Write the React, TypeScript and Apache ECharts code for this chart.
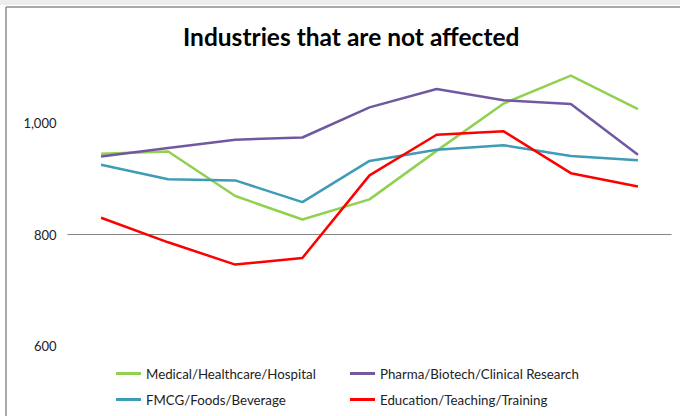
import React, { useEffect, useRef } from "react";
import * as echarts from "echarts";

const categories = ["1", "2", "3", "4", "5", "6", "7", "8", "9"];
const medical = [945, 949, 869, 827, 863, 950, 1035, 1085, 1025];
const pharma = [940, 955, 970, 974, 1028, 1061, 1041, 1034, 943];
const fmcg = [925, 899, 897, 858, 932, 952, 960, 941, 933];
const education = [830, 786, 746, 758, 906, 979, 985, 910, 886];
const seriesNames = [
  "Medical/Healthcare/Hospital",
  "Pharma/Biotech/Clinical Research",
  "FMCG/Foods/Beverage",
  "Education/Teaching/Training",
];
const colors = ["#92D050", "#7059A0", "#3D9CB6", "#FF0000"];
const yTicks = [600, 800, 1000];

const FONT = "Lato, 'Noto Sans', sans-serif";

export default function App() {
  const ref = useRef<HTMLDivElement>(null);
  useEffect(() => {
    if (!ref.current) return;
    const chart = echarts.init(ref.current, undefined, { renderer: "svg" });
    const data = [medical, pharma, fmcg, education];
    const legendPos = [
      { left: 116, top: 367 },
      { left: 350, top: 367 },
      { left: 116, top: 393 },
      { left: 350, top: 393 },
    ];
    chart.setOption({
      animation: false,
      backgroundColor: "#ffffff",
      title: {
        text: "Industries that are not affected",
        left: 178,
        top: 19,
        textStyle: {
          fontFamily: FONT,
          fontWeight: "bold",
          fontSize: 24.5,
          color: "#000",
        },
      },
      graphic: [
        { type: "rect", shape: { x: 0, y: 0, width: 680, height: 5 }, style: { fill: "#ededed" }, silent: true },
        { type: "line", shape: { x1: 6, y1: 7, x2: 680, y2: 7 }, style: { stroke: "#8c8c8c", lineWidth: 1.5 }, silent: true },
        { type: "line", shape: { x1: 6, y1: 7, x2: 6, y2: 416 }, style: { stroke: "#8c8c8c", lineWidth: 1.5 }, silent: true },
      ],
      legend: seriesNames.map((n, i) => ({
        data: [n],
        left: legendPos[i].left,
        top: legendPos[i].top,
        icon: "rect",
        itemWidth: 25,
        itemHeight: 3,
        padding: 0,
        textStyle: { fontFamily: FONT, fontSize: 13.3, color: "#222" },
      })),
      grid: { left: 67.5, right: 8.5, top: 11.5, bottom: 70 },
      xAxis: {
        type: "category",
        data: categories,
        boundaryGap: true,
        axisLine: { show: false },
        axisTick: { show: false },
        axisLabel: { show: false },
      },
      yAxis: {
        type: "value",
        min: 600,
        max: 1200,
        interval: 200,
        axisLine: { show: false },
        axisTick: { show: false },
        axisLabel: {
          margin: 11,
          fontFamily: FONT,
          fontSize: 13,
          color: "#222",
          formatter: (v: number) =>
            yTicks.indexOf(v) >= 0 ? v.toLocaleString("en-US") : "",
        },
        splitLine: {
          show: true,
          lineStyle: {
            color: ["rgba(0,0,0,0)", "#868686", "rgba(0,0,0,0)", "rgba(0,0,0,0)"],
            width: 1,
          },
        },
      },
      series: seriesNames.map((n, i) => ({
        name: n,
        type: "line",
        data: data[i],
        showSymbol: false,
        symbol: "none",
        lineStyle: { color: colors[i], width: 2.5 },
        itemStyle: { color: colors[i] },
      })),
    });
    return () => chart.dispose();
  }, []);
  return (
    <div style={{ position: "absolute", left: 0, top: 0, width: 680, height: 416, overflow: "hidden" }}>
      <div ref={ref} style={{ width: 680, height: 416 }} />
    </div>
  );
}
